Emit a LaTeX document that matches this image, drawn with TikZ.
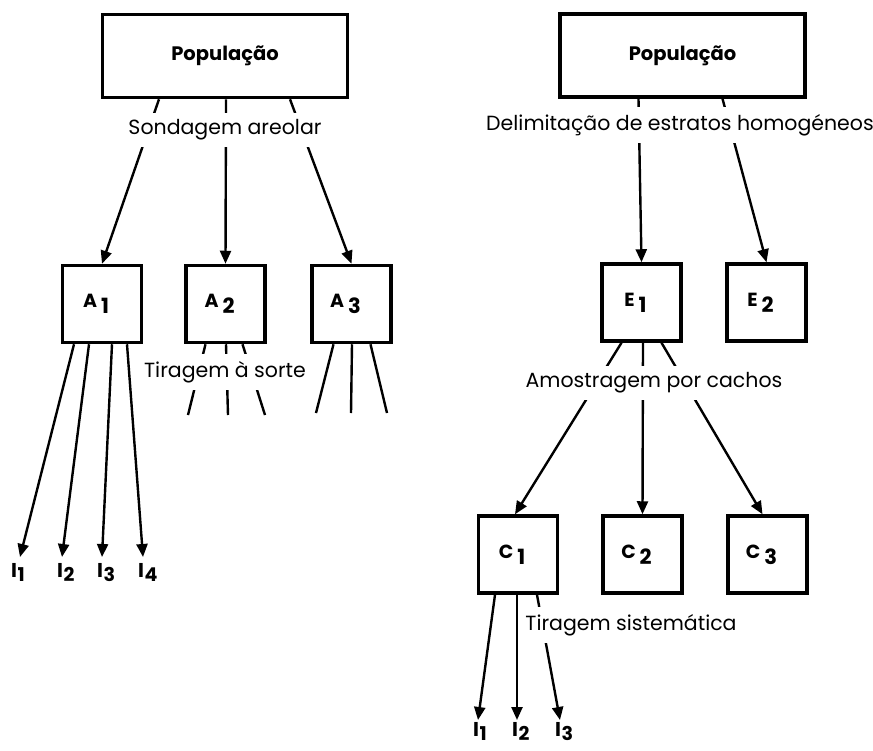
\documentclass[tikz,border=0pt]{standalone}
\usepackage{fontspec}
\setmainfont{Poppins}
\usetikzlibrary{arrows.meta,calc}
\newcommand\boxlbl[2]{{\fontsize{19}{20}\selectfont\bfseries #1}\kern4pt\raisebox{-6pt}{\fontsize{21}{22}\selectfont\bfseries #2}\kern12pt}
\newcommand\ilbl[1]{{\fontsize{20}{22}\selectfont\bfseries I}\kern0.5pt\raisebox{-4pt}{\fontsize{19}{22}\selectfont\bfseries #1}}
\begin{document}
\begin{tikzpicture}[x=1pt,y=-1pt,
  bigbox/.style={draw,line width=3.5pt,inner sep=0pt,minimum width=245pt,minimum height=83pt,font=\bfseries\fontsize{19.5}{22}\selectfont},
  smallbox/.style={draw,line width=3.5pt,inner sep=0pt,minimum width=79pt,minimum height=77pt},
  conn/.style={line width=2.4pt},
  arr/.style={conn,-{Triangle[length=13pt,width=11pt]}},
  lab/.style={fill=white,inner xsep=3pt,inner ysep=7pt,font=\fontsize{20.5}{22}\selectfont},
  ilab/.style={inner sep=0pt,anchor=north west}]
\useasboundingbox (0,0) rectangle (873,750);
% ---------- left tree ----------
\node[bigbox] (popL) at (225,56) {População};
\node[smallbox] (A1) at (102,304) {\boxlbl{A}{1}};
\node[smallbox] (A2) at (225.5,304) {\boxlbl{A}{2}};
\node[smallbox] (A3) at (351.5,304) {\boxlbl{A}{3}};
\draw[arr] ([xshift=-66pt]popL.south) -- (A1.north);
\draw[arr] ([xshift=1pt]popL.south) -- (A2.north);
\draw[arr] ([xshift=65pt]popL.south) -- (A3.north);
% A1 -> individuals
\coordinate (la1) at (20,557);
\coordinate (la2) at (62,557);
\coordinate (la3) at (102,557);
\coordinate (la4) at (143,557);
\draw[arr] ([xshift=-28pt]A1.south) -- (la1);
\draw[arr] ([xshift=-13pt]A1.south) -- (la2);
\draw[arr] ([xshift=10pt]A1.south) -- (la3);
\draw[arr] ([xshift=25pt]A1.south) -- (la4);
\node[ilab] (iL1) at ([xshift=-9pt,yshift=-6pt]la1) {\ilbl{1}};
\node[ilab] (iL2) at ([xshift=-5pt,yshift=-6pt]la2) {\ilbl{2}};
\node[ilab] (iL3) at ([xshift=-5pt,yshift=-6pt]la3) {\ilbl{3}};
\node[ilab] (iL4) at ([xshift=-5pt,yshift=-6pt]la4) {\ilbl{4}};
% A2 fan (no arrowheads)
\coordinate (f21) at (188,415);
\coordinate (f22) at (228,415);
\coordinate (f23) at (265,415);
\draw[conn] ([xshift=-20pt]A2.south) -- (f21);
\draw[conn] ([xshift=0.5pt]A2.south) -- (f22);
\draw[conn] ([xshift=17pt]A2.south) -- (f23);
% A3 fan
\coordinate (f31) at (316,413);
\coordinate (f32) at (351,413);
\coordinate (f33) at (387,413);
\draw[conn] ([xshift=-18pt]A3.south) -- (f31);
\draw[conn] ([xshift=0.5pt]A3.south) -- (f32);
\draw[conn] ([xshift=19pt]A3.south) -- (f33);
\node[lab] (sond) at (225,130) {Sondagem areolar};
\node[lab] (tir) at (225,372) {Tiragem à sorte};
% ---------- right tree ----------
\node[bigbox] (popR) at (682.5,55.5) {População};
\node[smallbox] (E1) at (641.5,302.5) {\boxlbl{E}{1}};
\node[smallbox] (E2) at (766.5,302.5) {\boxlbl{E}{2}};
\node[smallbox] (C1) at (518,554.5) {\boxlbl{C}{1}};
\node[smallbox] (C2) at (642.5,554.5) {\boxlbl{C}{2}};
\node[smallbox] (C3) at (767.5,554.5) {\boxlbl{C}{3}};
\draw[arr] ([xshift=-44pt]popR.south) -- (E1.north);
\draw[arr] ([xshift=40pt]popR.south) -- (E2.north);
\draw[arr] ([xshift=-20pt]E1.south) -- ([xshift=-3pt]C1.north);
\draw[arr] ([xshift=1.5pt]E1.south) -- (C2.north);
\draw[arr] ([xshift=20pt]E1.south) -- ([xshift=-5pt]C3.north);
\coordinate (lc1) at (478,720);
\coordinate (lc2) at (517,720);
\coordinate (lc3) at (560,720);
\draw[arr] ([xshift=-23pt]C1.south) -- (lc1);
\draw[arr] ([xshift=-1pt]C1.south) -- (lc2);
\draw[arr] ([xshift=19pt]C1.south) -- (lc3);
\node[ilab] (iR1) at ([xshift=-5pt,yshift=-2pt]lc1) {\ilbl{1}};
\node[ilab] (iR2) at ([xshift=-5pt,yshift=-2pt]lc2) {\ilbl{2}};
\node[ilab] (iR3) at ([xshift=-5pt,yshift=-2pt]lc3) {\ilbl{3}};
\node[lab] (delim) at (680,125) {Delimitação de estratos homogéneos};
\node[lab] (amos) at (654,383) {Amostragem por cachos};
\node[lab,inner ysep=7pt] (tirs) at (631,625) {Tiragem sistemática};
\end{tikzpicture}
\end{document}
